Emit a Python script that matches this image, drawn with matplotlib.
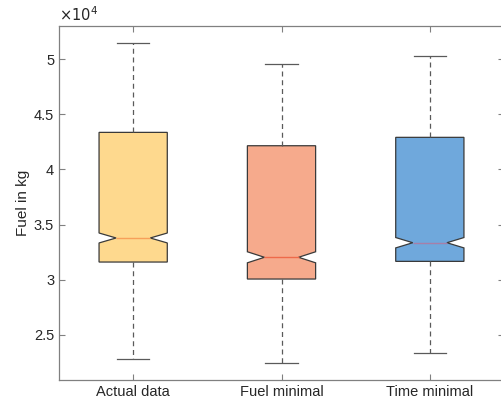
import matplotlib
matplotlib.use("Agg")
import matplotlib.pyplot as plt
from matplotlib.ticker import FuncFormatter

plt.rcParams['font.family'] = ['Liberation Sans', 'DejaVu Sans']

categories = ["Actual data", "Fuel minimal", "Time minimal"]
whisker_low = [22830, 22460, 23370]
q1 = [31610, 30070, 31670]
median = [33790, 32040, 33360]
q3 = [43360, 42150, 42910]
whisker_high = [51450, 49550, 50270]
notch_low = [33340, 31540, 32890]
notch_high = [34240, 32540, 33830]

box_colors = ["#FED98E", "#F6AA8C", "#6FA8DC"]
median_colors = ["#F7A05A", "#EE6A4A", "#A77FA8"]

stats = []
for i, c in enumerate(categories):
    stats.append(dict(label=c, whislo=whisker_low[i], q1=q1[i], med=median[i],
                      q3=q3[i], whishi=whisker_high[i], cilo=notch_low[i],
                      cihi=notch_high[i], fliers=[]))

fig = plt.figure(figsize=(5.02, 4.04), dpi=100)
ax = fig.add_axes([59/502, 24/404, 445/502, 354/404])

bp = ax.bxp(stats, positions=[1, 2, 3], widths=0.46, shownotches=True,
            patch_artist=True, showfliers=False, capwidths=0.22,
            boxprops=dict(edgecolor="#3a3a3a", linewidth=0.9),
            whiskerprops=dict(color="#5a5a5a", linewidth=0.9, linestyle=(0, (4, 3))),
            capprops=dict(color="#5a5a5a", linewidth=0.9),
            medianprops=dict(linewidth=1.0))
for patch, col in zip(bp['boxes'], box_colors):
    patch.set_facecolor(col)
for med, col in zip(bp['medians'], median_colors):
    med.set_color(col)

ax.set_xlim(0.5, 3.5)
ax.set_ylim(20920, 53000)
ax.set_yticks([25000, 30000, 35000, 40000, 45000, 50000])
ax.yaxis.set_major_formatter(FuncFormatter(lambda v, p: f"{v/1e4:g}"))
ax.set_xticks([1, 2, 3])
ax.set_xticklabels(categories)

for s in ax.spines.values():
    s.set_color("#808080")
    s.set_linewidth(0.9)
ax.tick_params(direction='in', length=4, width=0.8, color="#808080",
               labelsize=10.5, labelcolor="#262626", top=True, right=True)
ax.set_ylabel("Fuel in kg", fontsize=11, color="#262626", labelpad=3)
ax.text(0.0, 1.005, r"$\times10^{4}$", transform=ax.transAxes, fontsize=10.5,
        color="#262626", ha='left', va='bottom')

fig.savefig("out.png", dpi=100)
